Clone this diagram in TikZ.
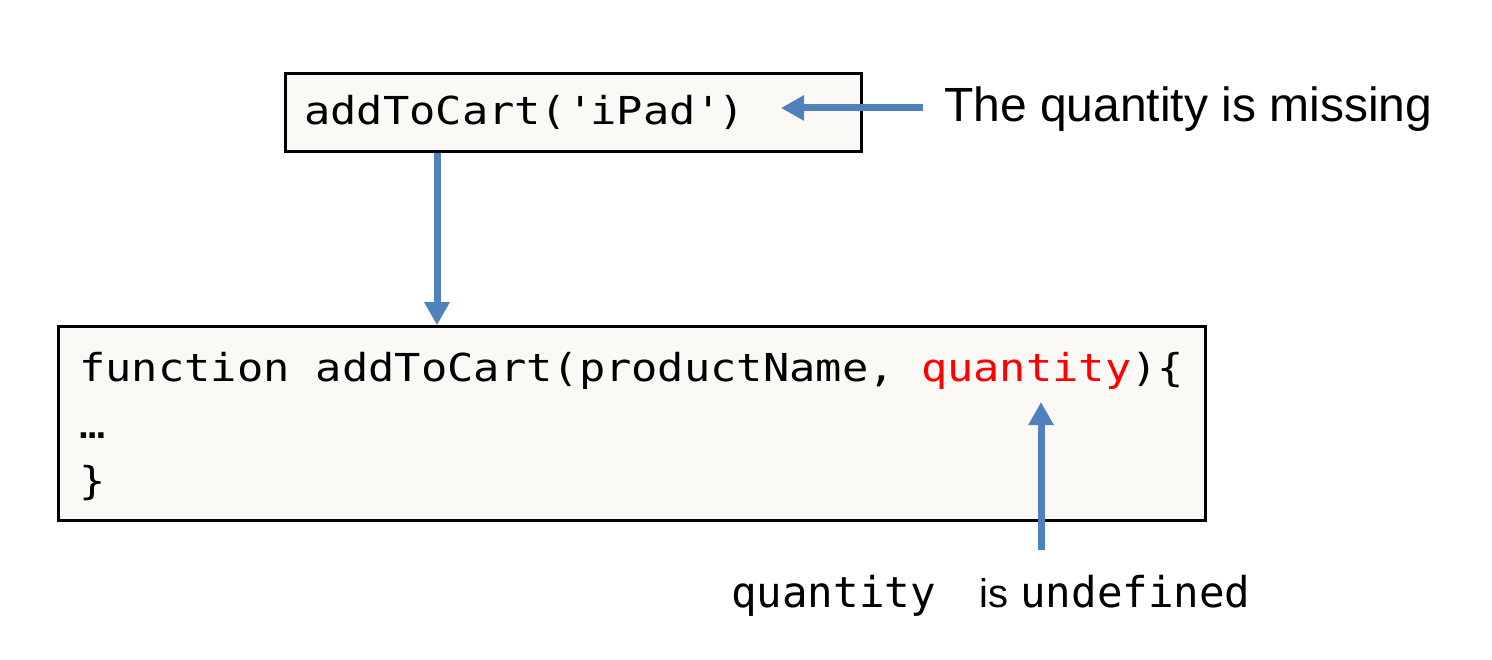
\documentclass[tikz,border=0pt]{standalone}
\usepackage{fontspec}
\setmainfont{Liberation Sans}
\newfontfamily\codefont[FakeStretch=1.135]{DejaVu Sans Mono}
\newfontfamily\labelmono{DejaVu Sans Mono}
\usetikzlibrary{arrows.meta}
\definecolor{boxfill}{RGB}{250,249,245}
\definecolor{arrowblue}{RGB}{79,129,189}
\definecolor{errred}{RGB}{255,0,0}
\begin{document}
\begin{tikzpicture}[x=1pt,y=-1pt,
  codebox/.style={draw=black,line width=3pt,fill=boxfill,inner sep=0pt},
  codetext/.style={anchor=base west,inner sep=0pt,font=\codefont\fontsize{38.5}{46}\selectfont},
  plaintext/.style={anchor=base west,inner sep=0pt},
  arr/.style={draw=arrowblue,line width=7pt,-{Triangle[length=23pt,width=24pt]}}]
\useasboundingbox (0,0) rectangle (1492,660);
% boxes
\node[codebox,minimum width=576pt,minimum height=77.7pt] (top) at (573,112.2) {};
\node[codebox,minimum width=1146.7pt,minimum height=193.3pt] (bot) at (631.65,423.35) {};
% code texts
\node[codetext] (call) at (304,125) {addToCart(\textquotesingle iPad\textquotesingle)};
\node[codetext] (code1) at (79,381.7) {function addToCart(productName, \textcolor{errred}{quantity})\{};
\node[codetext] (code2) at (79,438) {…};
\node[codetext] (code3) at (79,494) {\}};
% labels
\node[plaintext,font=\fontsize{48}{58}\selectfont] (missing) at (944,121.7) {The quantity is missing};
\node[plaintext] (undef) at (731,607) {{\labelmono\fontsize{42.5}{50}\selectfont quantity}\hspace{44pt}{\fontsize{40}{48}\selectfont is}\hspace{11.5pt}{\labelmono\fontsize{42.5}{50}\selectfont undefined}};
% connectors
\coordinate (missTail) at (923,108);
\coordinate (missTip) at (781,108);
\draw[arr] (missTail) -- (missTip);
\coordinate (callX) at (437,0);
\draw[arr] (top.south -| callX) -- (bot.north -| callX);
\coordinate (undefTail) at (1041,550);
\coordinate (undefTip) at (1041,402);
\draw[arr] (undefTail) -- (undefTip);
\end{tikzpicture}
\end{document}
